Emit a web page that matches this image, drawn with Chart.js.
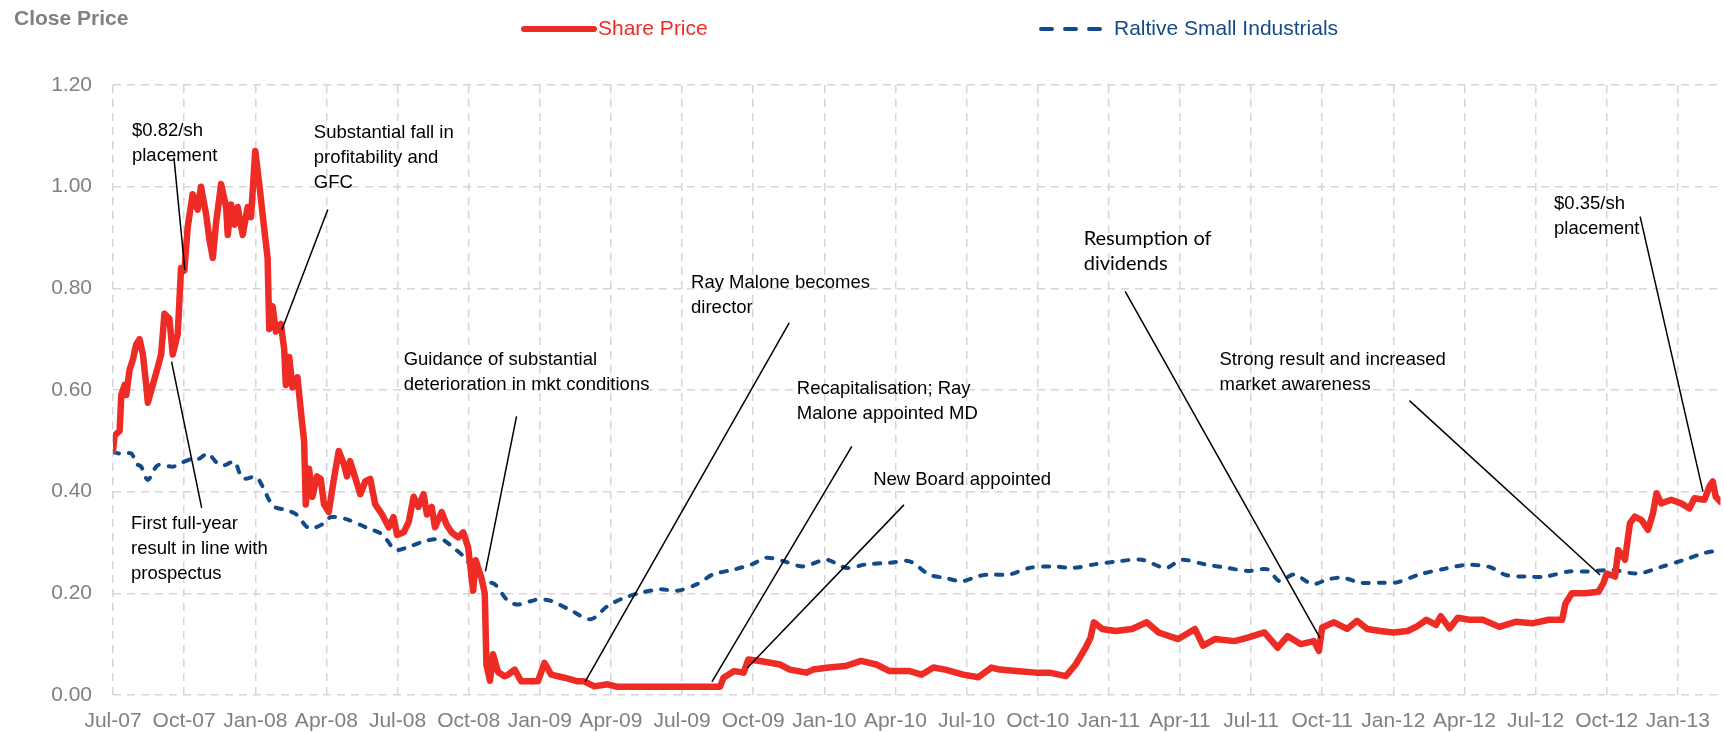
<!DOCTYPE html>
<html>
<head>
<meta charset="utf-8">
<script src="https://cdn.jsdelivr.net/npm/chart.js@4.4.1/dist/chart.umd.min.js"></script>
<style>
  html, body { margin: 0; padding: 0; background: #ffffff; }
  #wrap { width: 1724px; height: 732px; }
</style>
</head>
<body>
<div id="wrap"><canvas id="priceChart" width="1724" height="732"></canvas></div>
<script>
// x values are months counted from Jul-07
var tickLabels = ['Jul-07', 'Oct-07', 'Jan-08', 'Apr-08', 'Jul-08', 'Oct-08', 'Jan-09', 'Apr-09',
  'Jul-09', 'Oct-09', 'Jan-10', 'Apr-10', 'Jul-10', 'Oct-10', 'Jan-11', 'Apr-11', 'Jul-11',
  'Oct-11', 'Jan-12', 'Apr-12', 'Jul-12', 'Oct-12', 'Jan-13']
var tickMonths = [0, 3, 6, 9, 12, 15, 18, 21, 24, 27, 30, 33, 36, 39, 42, 45, 48, 51, 54, 57, 60, 63, 66]
var priceTicks = [0, 0.2, 0.4, 0.6, 0.8, 1.0, 1.2]

var shareMonths = [0, 0.07, 0.28, 0.35, 0.49, 0.56, 0.7, 0.84, 0.98, 1.12, 1.26, 1.4, 1.47, 1.68, 1.89,
  2.03, 2.17, 2.38, 2.52, 2.73, 2.87, 3.01, 3.15, 3.36, 3.57, 3.71, 3.93, 4.07, 4.21, 4.35, 4.56,
  4.77, 4.84, 4.98, 5.12, 5.26, 5.47, 5.68, 5.82, 6.0, 6.17, 6.31, 6.52, 6.59, 6.73, 6.87, 7.08,
  7.22, 7.29, 7.43, 7.57, 7.78, 7.92, 8.06, 8.13, 8.27, 8.41, 8.6, 8.76, 8.9, 9.1, 9.3, 9.52,
  9.73, 9.87, 10.0, 10.2, 10.43, 10.64, 10.85, 11.06, 11.35, 11.63, 11.83, 11.98, 12.26, 12.47,
  12.68, 12.88, 13.1, 13.24, 13.44, 13.58, 13.86, 14.07, 14.28, 14.56, 14.77, 14.98, 15.19, 15.3,
  15.4, 15.54, 15.68, 15.75, 15.9, 16.03, 16.24, 16.52, 16.67, 16.94, 17.22, 17.92, 18.2, 18.48,
  19.04, 19.6, 19.88, 20.3, 20.86, 21.28, 25.6, 25.75, 26.2, 26.6, 26.8, 27.3, 28.13, 28.55,
  29.25, 29.53, 30.2, 30.9, 31.55, 32.2, 32.75, 33.6, 34.1, 34.6, 35.1, 35.86, 36.5, 37.05,
  37.4, 38.1, 38.93, 39.5, 40.19, 40.6, 41.02, 41.23, 41.37, 41.72, 42.28, 42.98, 43.6, 44.1,
  44.93, 45.63, 45.98, 46.47, 47.3, 47.86, 48.56, 49.12, 49.54, 50.1, 50.65, 50.86, 51.0, 51.5,
  52.05, 52.47, 52.9, 53.45, 54.0, 54.6, 55.0, 55.4, 55.8, 56.0, 56.37, 56.72, 57.2, 57.77,
  58.47, 59.16, 59.86, 60.56, 61.12, 61.26, 61.53, 62.1, 62.65, 62.86, 63.0, 63.35, 63.49, 63.77,
  63.98, 64.19, 64.47, 64.74, 64.95, 65.1, 65.3, 65.72, 66.14, 66.49, 66.7, 67.12, 67.33, 67.47,
  67.6, 67.8]
var sharePrice = [0.48, 0.51, 0.52, 0.59, 0.61, 0.59, 0.64, 0.66, 0.69, 0.70, 0.67, 0.61, 0.575, 0.61, 0.645,
  0.67, 0.75, 0.74, 0.67, 0.71, 0.84, 0.835, 0.92, 0.985, 0.955, 1.0, 0.945, 0.895, 0.86, 0.93, 1.005,
  0.96, 0.905, 0.965, 0.925, 0.96, 0.905, 0.96, 0.94, 1.07, 1.005, 0.945, 0.86, 0.72, 0.765, 0.715, 0.73,
  0.68, 0.61, 0.665, 0.605, 0.625, 0.56, 0.5, 0.375, 0.445, 0.39, 0.43, 0.425, 0.375, 0.36, 0.42, 0.48,
  0.455, 0.43, 0.46, 0.43, 0.395, 0.42, 0.425, 0.375, 0.355, 0.33, 0.35, 0.315, 0.32, 0.34,
  0.39, 0.37, 0.395, 0.355, 0.37, 0.33, 0.36, 0.335, 0.32, 0.31, 0.32, 0.29, 0.205, 0.265,
  0.25, 0.23, 0.2, 0.06, 0.028, 0.08, 0.045, 0.037, 0.04, 0.05, 0.027, 0.027, 0.063, 0.04,
  0.034, 0.027, 0.027, 0.017, 0.021, 0.016, 0.016, 0.034, 0.047, 0.044, 0.07, 0.067, 0.06, 0.05,
  0.044, 0.05, 0.054, 0.057, 0.067, 0.06, 0.047, 0.047, 0.04, 0.054, 0.05, 0.04, 0.035, 0.054,
  0.05, 0.047, 0.044, 0.044, 0.037, 0.06, 0.093, 0.113, 0.143, 0.13, 0.126, 0.13, 0.143, 0.123,
  0.11, 0.13, 0.097, 0.11, 0.106, 0.113, 0.123, 0.093, 0.116, 0.1, 0.106, 0.087, 0.133, 0.143,
  0.13, 0.146, 0.13, 0.126, 0.123, 0.126, 0.135, 0.148, 0.138, 0.155, 0.131, 0.152, 0.148, 0.148,
  0.134, 0.144, 0.141, 0.148, 0.148, 0.18, 0.2, 0.2, 0.203, 0.22, 0.239, 0.233, 0.285, 0.266,
  0.338, 0.351, 0.344, 0.325, 0.357, 0.397, 0.377, 0.384, 0.377, 0.367, 0.387, 0.384, 0.41, 0.42,
  0.39, 0.38]

var indexMonths = [0, 0.28, 0.77, 0.98, 1.19, 1.47, 1.89, 2.52, 2.8, 3.36, 3.64, 4.0, 4.42, 4.7, 5.12,
  5.47, 6.03, 6.31, 6.59, 6.8, 7.29, 7.71, 8.27, 8.83, 9.2, 9.9, 10.7, 11.35, 11.9, 12.39, 13.16,
  13.86, 14.35, 14.84, 15.33, 15.68, 16.1, 16.66, 17.08, 17.92, 18.48, 19.25, 20.15, 20.86, 21.55,
  22.25, 23.09, 23.8, 24.63, 25.3, 26.2, 26.94, 27.57, 28.3, 29.1, 30.09, 30.93, 31.77, 32.75,
  33.6, 34.42, 35.12, 35.82, 36.5, 37.0, 37.8, 38.65, 39.6, 40.5, 41.4, 42.4, 43.4, 44.4, 45.07,
  46.05, 47.0, 47.86, 48.7, 49.2, 49.8, 50.6, 51.2, 51.84, 52.6, 53.43, 54.1, 55.1, 56.23, 57.07,
  58.05, 58.74, 59.58, 60.42, 61.4, 62.23, 63.2, 64.33, 65.3, 66.28, 67.1, 67.8]
var smallIndustrials = [0.478, 0.475, 0.475, 0.455, 0.449, 0.423, 0.452, 0.449, 0.455, 0.465, 0.465, 0.475, 0.455, 0.452, 0.459,
  0.426, 0.429, 0.41, 0.383, 0.37, 0.364, 0.356, 0.328, 0.336, 0.35, 0.345, 0.329, 0.316, 0.286, 0.29, 0.303,
  0.306, 0.29, 0.27, 0.24, 0.224, 0.218, 0.185, 0.178, 0.188, 0.185, 0.168, 0.149, 0.175, 0.191,
  0.201, 0.208, 0.205, 0.218, 0.237, 0.247, 0.257, 0.27, 0.263, 0.253, 0.266, 0.25, 0.257, 0.26,
  0.263, 0.237, 0.23, 0.224, 0.234, 0.237, 0.237, 0.25, 0.253, 0.25, 0.257, 0.263, 0.266, 0.25, 0.266,
  0.257, 0.25, 0.244, 0.247, 0.224, 0.237, 0.218, 0.227, 0.231, 0.221, 0.221, 0.221, 0.237, 0.249, 0.256,
  0.252, 0.236, 0.233, 0.233, 0.243, 0.243, 0.246, 0.239, 0.252, 0.266, 0.279, 0.285]

// call-outs: text lines, anchor [month, price], leader [month, price, month, price]
var noteTexts = [
  ['$0.82/sh', 'placement'],
  ['Substantial fall in', 'profitability and', 'GFC'],
  ['First full-year', 'result in line with', 'prospectus'],
  ['Guidance of substantial', 'deterioration in mkt conditions'],
  ['Ray Malone becomes', 'director'],
  ['Recapitalisation; Ray', 'Malone appointed MD'],
  ['New Board appointed'],
  ['Resumption of', 'dividends'],
  ['Strong result and increased', 'market awareness'],
  ['$0.35/sh', 'placement']
]
var noteAt = [[0.80, 1.109], [8.47, 1.106], [0.76, 0.337], [12.26, 0.659], [24.38, 0.811],
  [28.84, 0.602], [32.06, 0.423], [40.94, 0.898], [46.67, 0.659], [60.78, 0.966]]
var noteLeaders = [[2.57, 1.057, 3.03, 0.836], [9.06, 0.955, 7.12, 0.718], [2.47, 0.656, 3.74, 0.368],
  [17.02, 0.548, 15.71, 0.243], [28.52, 0.732, 19.91, 0.026], [31.16, 0.489, 25.26, 0.026],
  [33.36, 0.374, 26.75, 0.053], [42.69, 0.794, 50.91, 0.112], [54.68, 0.579, 62.72, 0.236],
  [64.41, 0.941, 67.06, 0.40]]

var gray = '#808080'
var red = '#ee2b25'
var blue = '#124b87'

function toPoints(xs, ys) {
  return xs.map(function(x, i) { return { x: x, y: ys[i] } })
}

var notesPlugin = {
  id: 'notes',
  afterDatasetsDraw: function(chart) {
    var ctx = chart.ctx
    var sx = chart.scales.x
    var sy = chart.scales.y
    ctx.save()
    ctx.strokeStyle = '#000000'
    ctx.lineWidth = 1.5
    noteLeaders.forEach(function(l) {
      ctx.beginPath()
      ctx.moveTo(sx.getPixelForValue(l[0]), sy.getPixelForValue(l[1]))
      ctx.lineTo(sx.getPixelForValue(l[2]), sy.getPixelForValue(l[3]))
      ctx.stroke()
    })
    ctx.fillStyle = '#000000'
    ctx.textBaseline = 'middle'
    ctx.textAlign = 'left'
    noteTexts.forEach(function(lines, i) {
      ctx.font = i === 7 ? '20px Lato' : '18.5px "Liberation Sans"'
      var x = sx.getPixelForValue(noteAt[i][0])
      var y = sy.getPixelForValue(noteAt[i][1])
      lines.forEach(function(t, j) { ctx.fillText(t, x, y + j * 25) })
    })
    ctx.restore()
  },
  afterDraw: function(chart) {
    // axis title and legend
    var ctx = chart.ctx
    ctx.save()
    ctx.textBaseline = 'middle'
    ctx.textAlign = 'left'
    ctx.fillStyle = gray
    ctx.font = 'bold 21px "Liberation Sans"'
    ctx.fillText('Close Price', 14, 19)

    ctx.lineCap = 'round'
    ctx.strokeStyle = red
    ctx.lineWidth = 6
    ctx.beginPath(); ctx.moveTo(524, 29); ctx.lineTo(594, 29); ctx.stroke()
    ctx.fillStyle = red
    ctx.font = '21px "Liberation Sans"'
    ctx.fillText(chart.data.datasets[0].label, 598, 29)

    ctx.strokeStyle = blue
    ctx.lineWidth = 4
    ctx.setLineDash([11, 13])
    ctx.beginPath(); ctx.moveTo(1041, 29); ctx.lineTo(1108, 29); ctx.stroke()
    ctx.setLineDash([])
    ctx.fillStyle = blue
    ctx.fillText(chart.data.datasets[1].label, 1114, 29)
    ctx.restore()
  }
}

var ctx = document.getElementById('priceChart').getContext('2d')

var priceChart = new Chart(ctx, {
  type: 'line',
  data: {
    datasets: [{
      label: 'Share Price',
      data: toPoints(shareMonths, sharePrice),
      borderColor: red,
      borderWidth: 6.5,
      borderJoinStyle: 'round',
      borderCapStyle: 'round',
      pointRadius: 0,
      tension: 0,
      fill: false
    }, {
      label: 'Raltive Small Industrials',
      data: toPoints(indexMonths, smallIndustrials),
      borderColor: blue,
      borderWidth: 4,
      borderDash: [6, 10],
      borderCapStyle: 'round',
      borderJoinStyle: 'round',
      pointRadius: 0,
      tension: 0.3,
      fill: false
    }]
  },
  options: {
    responsive: false,
    devicePixelRatio: 1,
    animation: false,
    layout: { padding: { top: 85, right: 2, bottom: 0, left: 0 } },
    plugins: {
      legend: { display: false },
      tooltip: { enabled: false }
    },
    scales: {
      x: {
        type: 'linear',
        min: 0,
        max: 67.8,
        afterBuildTicks: function(scale) {
          scale.ticks = tickMonths.map(function(v) { return { value: v } })
        },
        afterFit: function(scale) { scale.height = 37 },
        ticks: {
          autoSkip: false,
          maxRotation: 0,
          padding: 14,
          color: gray,
          font: { family: '"Liberation Sans"', size: 21 },
          callback: function(value) { return tickLabels[tickMonths.indexOf(value)] }
        },
        grid: { color: '#d6d6d6', lineWidth: 1.5, drawTicks: false },
        border: { display: false, dash: [8, 6] }
      },
      y: {
        min: 0,
        max: 1.2,
        afterBuildTicks: function(scale) {
          scale.ticks = priceTicks.map(function(v) { return { value: v } })
        },
        afterFit: function(scale) { scale.width = 113 },
        ticks: {
          padding: 21,
          color: gray,
          font: { family: '"Liberation Sans"', size: 21 },
          callback: function(value) { return value.toFixed(2) }
        },
        grid: { color: '#d6d6d6', lineWidth: 1.5, drawTicks: false },
        border: { display: false, dash: [8, 6] }
      }
    }
  },
  plugins: [notesPlugin]
})
</script>
</body>
</html>
